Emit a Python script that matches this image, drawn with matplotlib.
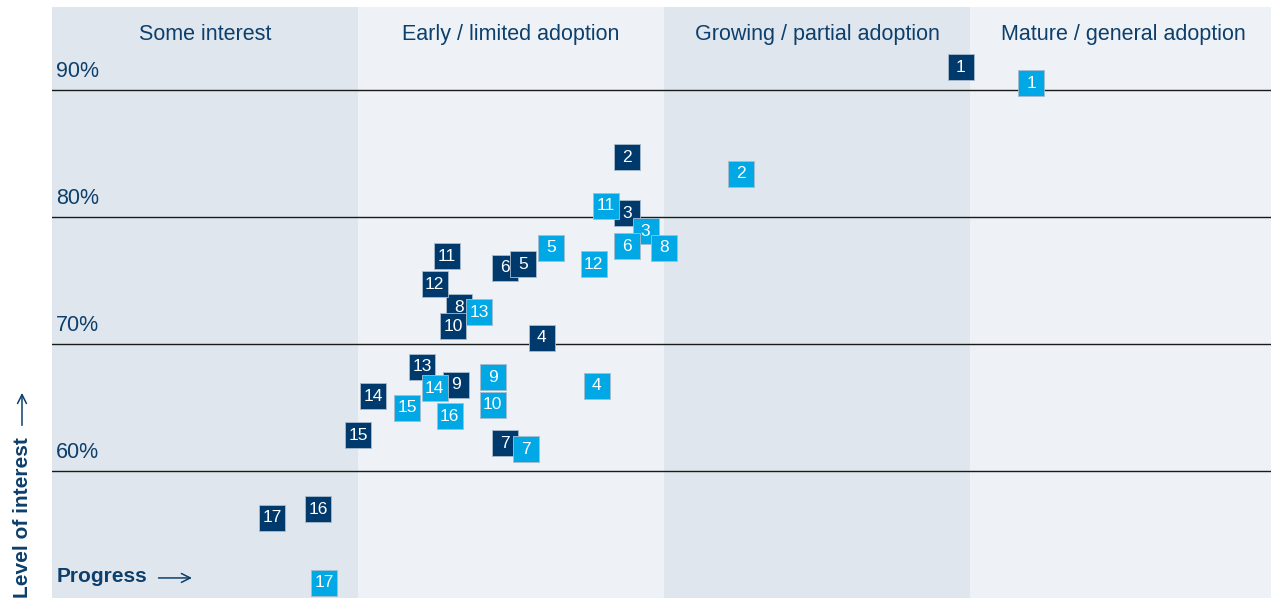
import matplotlib
matplotlib.use("Agg")
import matplotlib.pyplot as plt

# column headers (stages of adoption)
stages = ["Some interest", "Early / limited adoption",
          "Growing / partial adoption", "Mature / general adoption"]
y_ticks = [60, 70, 80, 90]

# item labels
labels = [str(i) for i in range(1, 18)]

# dark series (progress, level of interest)
dark_x = [2.97, 1.88, 1.88, 1.60, 1.54, 1.48, 1.48, 1.33, 1.32, 1.31,
          1.29, 1.25, 1.21, 1.05, 1.00, 0.87, 0.72]
dark_y = [91.8, 84.7, 80.3, 70.5, 76.3, 76.0, 62.2, 72.9, 66.8, 71.4,
          76.9, 74.7, 68.2, 65.9, 62.8, 57.0, 56.3]

# light series
light_x = [3.20, 2.25, 1.94, 1.78, 1.63, 1.88, 1.55, 2.00, 1.44, 1.44,
           1.81, 1.77, 1.395, 1.25, 1.16, 1.30, 0.89]
light_y = [90.55, 83.4, 78.9, 66.7, 77.6, 77.7, 61.7, 77.6, 67.4, 65.2,
           80.9, 76.3, 72.5, 66.5, 65.0, 64.3, 51.2]

# stacking order of the dark boxes (5 sits on top of 6)
dark_order = [0, 1, 2, 3, 5, 4, 6, 7, 8, 9, 10, 11, 12, 13, 14, 15, 16]

DARK = "#003a6c"
LIGHT = "#00a8e6"
TXT = "#0d3f6c"
BG_DARK = "#e0e6ed"
BG_LIGHT = "#eef2f6"

plt.rcParams['font.family'] = ['Liberation Sans', 'DejaVu Sans']

fig = plt.figure(figsize=(12.71, 5.98), dpi=100)
ax = fig.add_axes([52 / 1271, 0, 1 - 52 / 1271, 1 - 7 / 598])
ax.set_xlim(0, (1271 - 52) / 306)
ax.set_ylim(50, 96.54)
ax.axis("off")

# column backgrounds
for i, name in enumerate(stages):
    ax.axvspan(i, i + 1, color=BG_DARK if i % 2 == 0 else BG_LIGHT, zorder=0, lw=0)
    ax.text(i + 0.5, 94.4, name, ha="center", va="center", fontsize=15.5, color=TXT)

for v in y_ticks:
    ax.axhline(v, color="#1a1a1a", lw=1, zorder=1)
    ax.text(0.013, v + 1.45, f"{v}%", ha="left", va="center", fontsize=15.5, color=TXT)


def box(x, y, t, color, z):
    ax.scatter([x], [y], marker="s", s=370, color=color, edgecolors="#a9bccd",
               linewidths=0.6, zorder=z)
    ax.text(x, y, t, ha="center", va="center", color="white", fontsize=12.5,
            zorder=z + 0.001)


z = 3.0
for k in dark_order:
    box(dark_x[k], dark_y[k], labels[k], DARK, z)
    z += 0.01
for k in range(len(labels)):
    box(light_x[k], light_y[k], labels[k], LIGHT, z)
    z += 0.01

# axis titles with thin arrows
fig.canvas.draw()
r = fig.canvas.get_renderer()
prog = fig.text(57 / 1271, 1 - 577 / 598, "Progress", ha="left", va="center",
                fontsize=15, fontweight="bold", color=TXT)
bb = prog.get_window_extent(r)
ax.annotate("", xy=(bb.x1 + 47, bb.y0 + bb.height * 0.45), xycoords="figure pixels",
            xytext=(bb.x1 + 8, bb.y0 + bb.height * 0.45), textcoords="figure pixels",
            arrowprops=dict(arrowstyle="->", lw=1.1, color=TXT, mutation_scale=16))

lvl = fig.text(22 / 1271, 0.0, "Level of interest", rotation=90, ha="center",
               va="bottom", fontsize=15, fontweight="bold", color=TXT)
bb = lvl.get_window_extent(r)
xc = (bb.x0 + bb.x1) / 2
ax.annotate("", xy=(xc, bb.y1 + 47), xycoords="figure pixels",
            xytext=(xc, bb.y1 + 9), textcoords="figure pixels",
            arrowprops=dict(arrowstyle="->", lw=1.1, color=TXT, mutation_scale=16))

fig.savefig("out.png", dpi=100)
